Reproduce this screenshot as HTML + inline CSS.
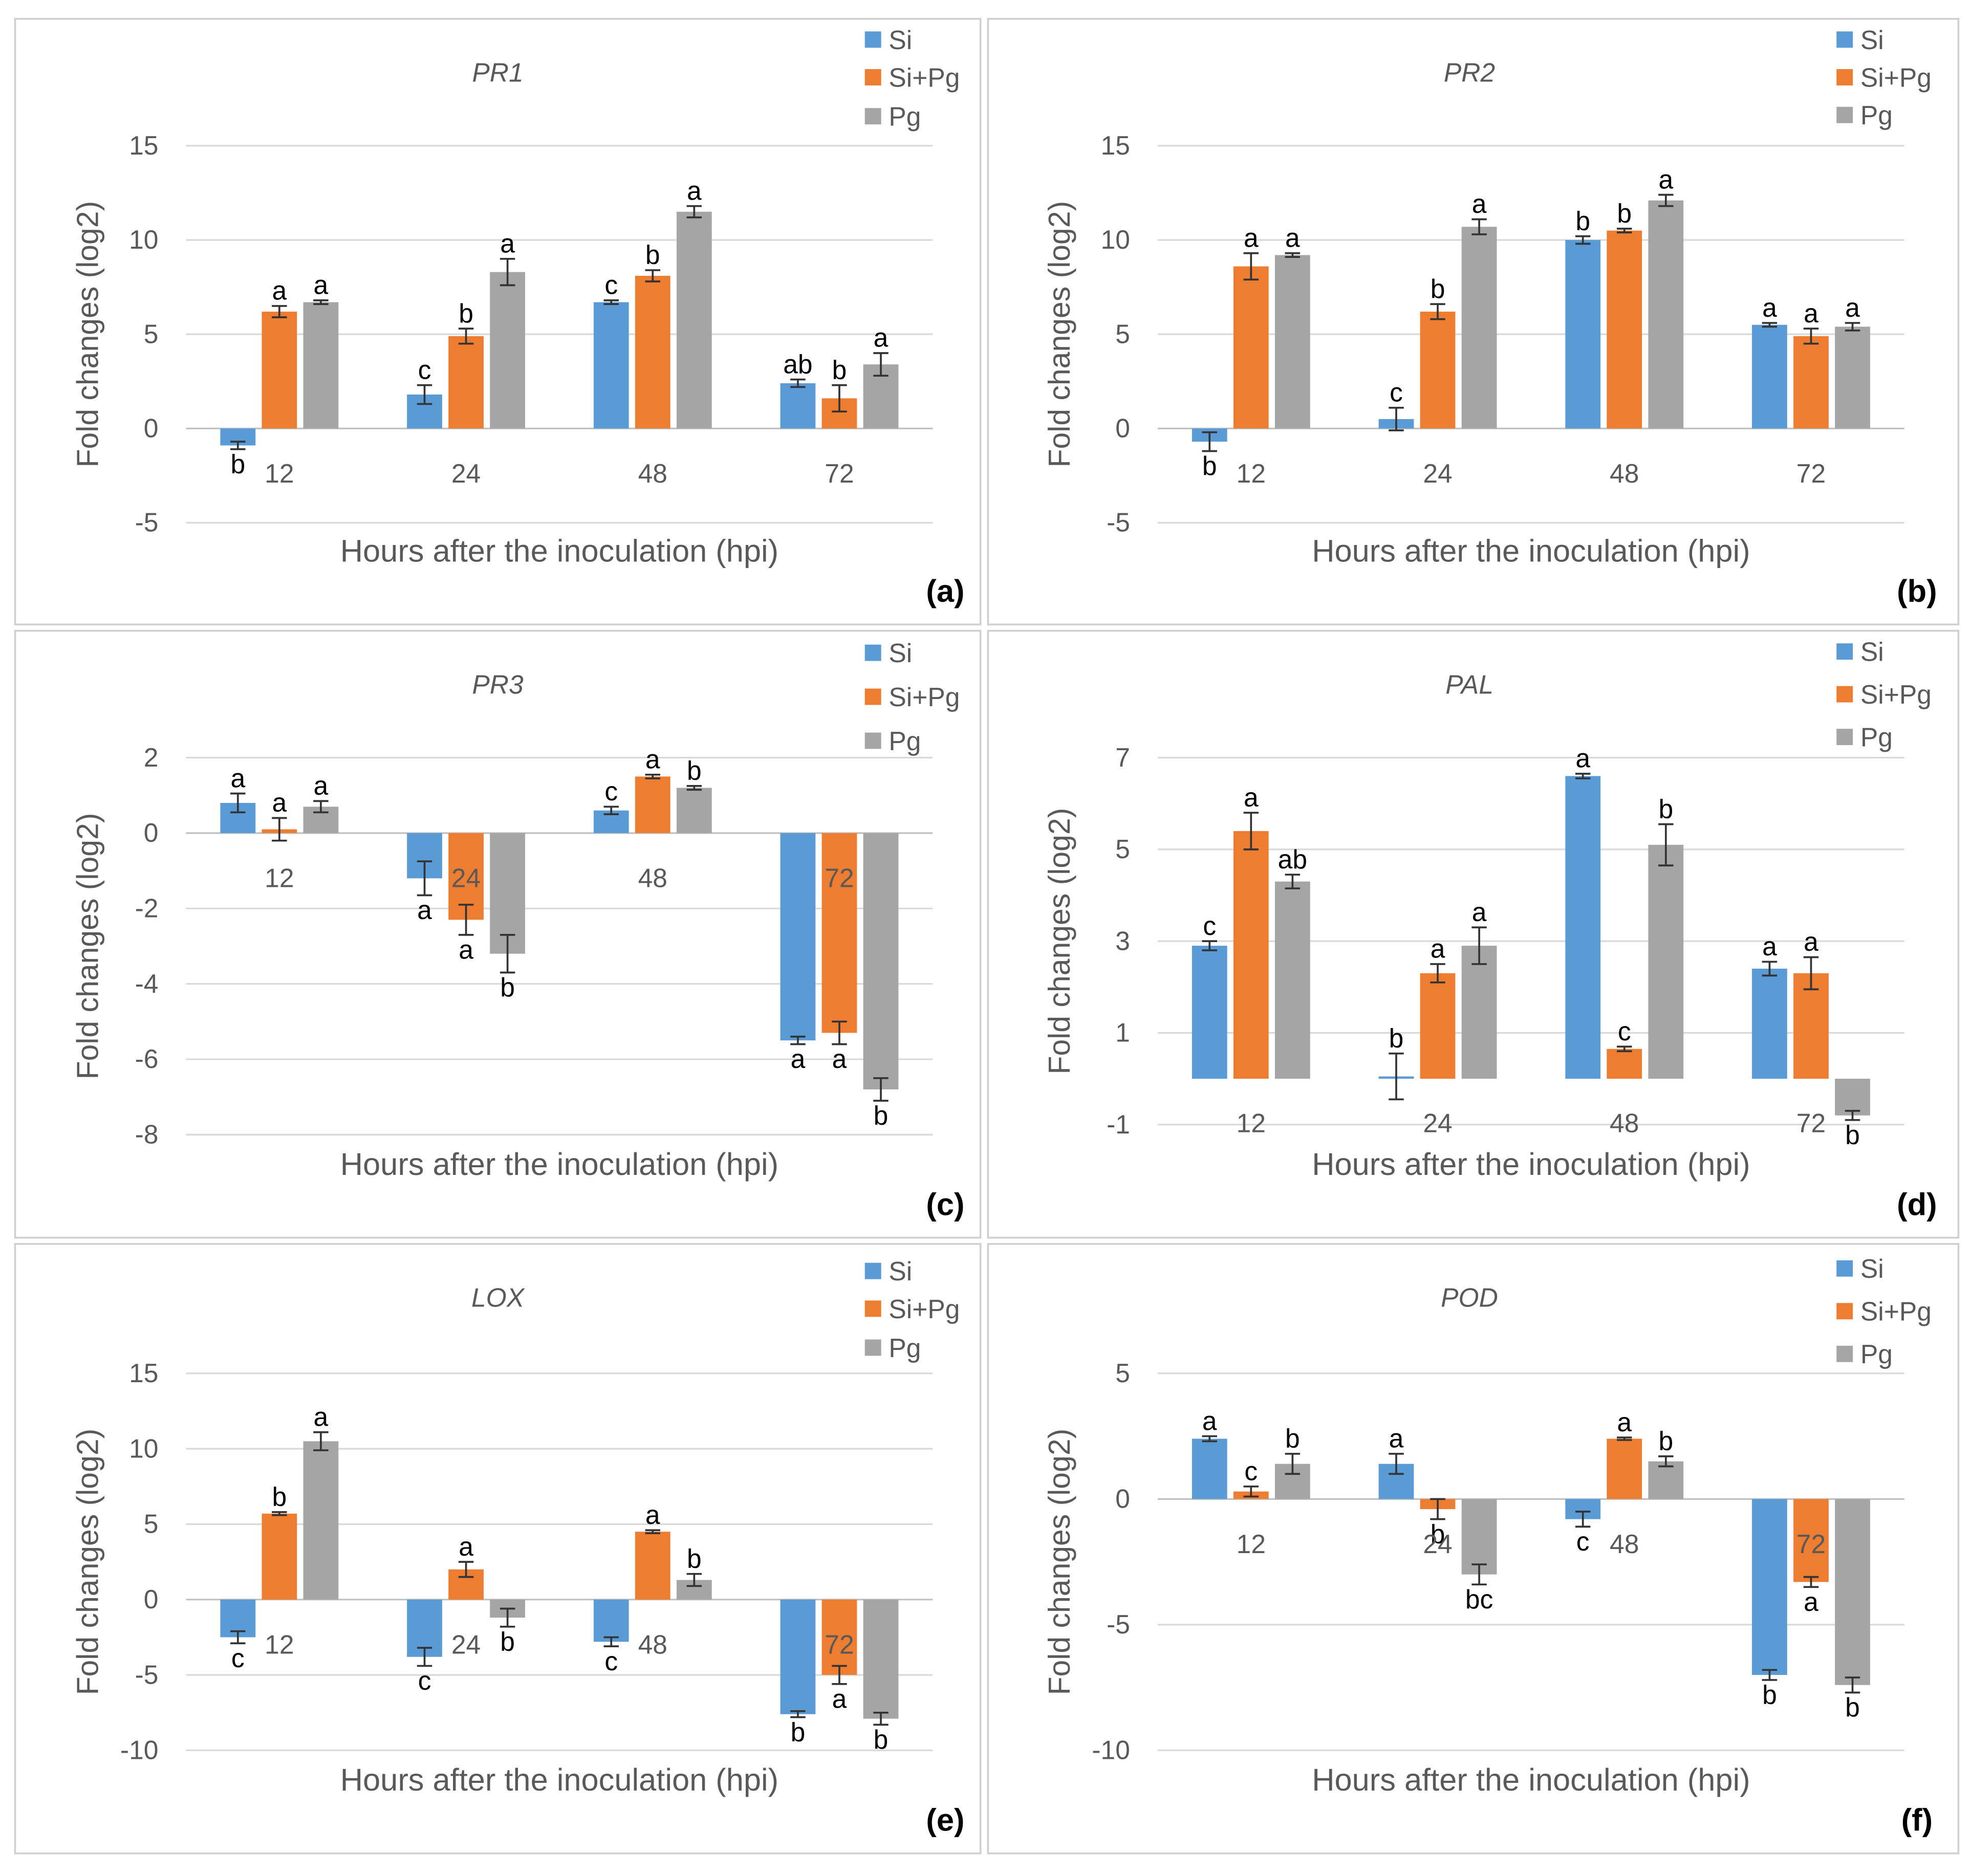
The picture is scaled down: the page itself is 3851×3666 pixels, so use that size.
<!DOCTYPE html>
<html><head><meta charset="utf-8"><style>
html,body{margin:0;padding:0;background:#fff;}
svg{display:block;}
text{font-family:"Liberation Sans",sans-serif;}
</style></head>
<body>
<svg id="fig" width="3851" height="3666" viewBox="0 0 1568 1493" preserveAspectRatio="none" xmlns="http://www.w3.org/2000/svg"></svg>
<script>
const categories = ["12","24","48","72"];
const seriesNames = ["Si","Si+Pg","Pg"];
const seriesColors = ["#5B9BD5","#ED7D31","#A5A5A5"];

// PR1
const pr1Si = [-0.9,1.8,6.7,2.4];
const pr1SiPg = [6.2,4.9,8.1,1.6];
const pr1Pg = [6.7,8.3,11.5,3.4];
const pr1Err = [[0.2,0.5,0.1,0.2],[0.3,0.4,0.3,0.7],[0.1,0.7,0.3,0.6]];
const pr1Let = [["b","c","c","ab"],["a","b","b","b"],["a","a","a","a"]];
// PR2
const pr2Si = [-0.7,0.5,10.0,5.5];
const pr2SiPg = [8.6,6.2,10.5,4.9];
const pr2Pg = [9.2,10.7,12.1,5.4];
const pr2Err = [[0.5,0.6,0.2,0.1],[0.7,0.4,0.1,0.4],[0.1,0.4,0.3,0.2]];
const pr2Let = [["b","c","b","a"],["a","b","b","a"],["a","a","a","a"]];
// PR3
const pr3Si = [0.8,-1.2,0.6,-5.5];
const pr3SiPg = [0.1,-2.3,1.5,-5.3];
const pr3Pg = [0.7,-3.2,1.2,-6.8];
const pr3Err = [[0.25,0.45,0.1,0.1],[0.3,0.4,0.05,0.3],[0.15,0.5,0.05,0.3]];
const pr3Let = [["a","a","c","a"],["a","a","a","a"],["a","b","b","b"]];
// PAL
const palSi = [2.9,0.05,6.6,2.4];
const palSiPg = [5.4,2.3,0.65,2.3];
const palPg = [4.3,2.9,5.1,-0.8];
const palErr = [[0.1,0.5,0.05,0.15],[0.4,0.2,0.05,0.35],[0.15,0.4,0.45,0.1]];
const palLet = [["c","b","a","a"],["a","a","c","a"],["ab","a","b","b"]];
// LOX
const loxSi = [-2.5,-3.8,-2.8,-7.6];
const loxSiPg = [5.7,2.0,4.5,-5.0];
const loxPg = [10.5,-1.2,1.3,-7.9];
const loxErr = [[0.4,0.6,0.3,0.2],[0.1,0.5,0.1,0.6],[0.6,0.6,0.4,0.4]];
const loxLet = [["c","c","c","b"],["b","a","a","a"],["a","b","b","b"]];
// POD
const podSi = [2.4,1.4,-0.8,-7.0];
const podSiPg = [0.3,-0.4,2.4,-3.3];
const podPg = [1.4,-3.0,1.5,-7.4];
const podErr = [[0.1,0.4,0.3,0.2],[0.2,0.4,0.05,0.2],[0.4,0.4,0.2,0.3]];
const podLet = [["a","a","c","b"],["c","b","a","a"],["b","bc","b","b"]];

const yTicks1 = [15,10,5,0,-5];
const yTicks3 = [2,0,-2,-4,-6,-8];
const yTicks4 = [7,5,3,1,-1];
const yTicks5 = [15,10,5,0,-5,-10];
const yTicks6 = [5,0,-5,-10];

const svg = document.getElementById('fig');
const NS = "http://www.w3.org/2000/svg";
function mk(tag, attrs, parent){
  const e = document.createElementNS(NS, tag);
  for (const k in attrs) e.setAttribute(k, attrs[k]);
  (parent||svg).appendChild(e);
  return e;
}
function txt(s, attrs, parent){ const t = mk('text', attrs, parent); t.textContent = s; return t; }

const panels = [
 {id:"a",title:"PR1",dx:0,box:[12,15,768,482],ticks:yTicks1,vTop:15,yTop:116,vBot:-5,yBot:416,catY:376,data:[pr1Si,pr1SiPg,pr1Pg],err:pr1Err,let:pr1Let,leg:[32,62,93],xt:438},
 {id:"b",title:"PR2",dx:773,box:[786,15,772,482],ticks:yTicks1,vTop:15,yTop:116,vBot:-5,yBot:416,catY:376,data:[pr2Si,pr2SiPg,pr2Pg],err:pr2Err,let:pr2Let,leg:[32,62,92],xt:438},
 {id:"c",title:"PR3",dx:0,box:[12,502,768,483],ticks:yTicks3,vTop:2,yTop:603,vBot:-8,yBot:903,catY:698,data:[pr3Si,pr3SiPg,pr3Pg],err:pr3Err,let:pr3Let,leg:[520,555,590],xt:926},
 {id:"d",title:"PAL",dx:773,box:[786,502,772,483],ticks:yTicks4,vTop:7,yTop:603,vBot:-1,yBot:895,catY:893,data:[palSi,palSiPg,palPg],err:palErr,let:palLet,leg:[519,553,587],xt:926},
 {id:"e",title:"LOX",dx:0,box:[12,990,768,485],ticks:yTicks5,vTop:15,yTop:1093,vBot:-10,yBot:1393,catY:1308,data:[loxSi,loxSiPg,loxPg],err:loxErr,let:loxLet,leg:[1012,1042,1073],xt:1416},
 {id:"f",title:"POD",dx:773,box:[786,990,772,485],ticks:yTicks6,vTop:5,yTop:1093,vBot:-10,yBot:1393,catY:1228,data:[podSi,podSiPg,podPg],err:podErr,let:podLet,leg:[1010,1044,1078],xt:1416}
];

panels.forEach(p=>{
  const g = mk('g',{});
  
  
  const b = mk('rect',{x:p.box[0],y:p.box[1],width:p.box[2],height:p.box[3],fill:"none",stroke:"#d0d0d0","stroke-width":1.5},g);
  
  
  const L = 148+p.dx, R = 742+p.dx;
  const y = v => p.yTop + (p.vTop - v)*(p.yBot-p.yTop)/(p.vTop-p.vBot);
  const cw = (R-L)/categories.length;
  const xc = i => L + (i+0.5)*cw;
  p.ticks.forEach(t=>{
    const gl = mk('line',{x1:L,x2:R,y1:y(t),y2:y(t),stroke:t===0?"#bfbfbf":"#d9d9d9","stroke-width":1.3},g);
    
    
    const tl = txt(String(t),{x:L-22,y:y(t)+7,"text-anchor":"end","font-size":21,fill:"#595959"},g);
    
    
  });
  const ti = txt(p.title,{x:396+p.dx,y:p.box[1]+50,"text-anchor":"middle","font-size":21,"font-style":"italic",fill:"#595959"},g);
  
  
  const ycen = (p.yTop+p.yBot)/2;
  const yt = txt("Fold changes (log2)",{x:0,y:0,"text-anchor":"middle","font-size":24,fill:"#595959",transform:`translate(${78+p.dx},${ycen}) rotate(-90)`},g);
  
  
  const xt = txt("Hours after the inoculation (hpi)",{x:445+p.dx,y:p.xt+9,"text-anchor":"middle","font-size":25,fill:"#595959"},g);
  
  
  const pl = txt("("+p.id+")",{x:752+p.dx,y:p.box[1]+p.box[3]-18,"text-anchor":"middle","font-size":25,"font-weight":"bold",fill:"#000","font-family":"Liberation Serif, serif"},g);
  
  
  seriesNames.forEach((n,k)=>{
    const ly = p.leg[k];
    const sw = mk('rect',{x:688+p.dx,y:ly-7,width:13,height:13,fill:seriesColors[k]},g);
    
    
    const lt = txt(n,{x:707+p.dx,y:ly+7,"font-size":21,fill:"#595959"},g);
    
    
  });
  const y0 = y(0);
  p.data.forEach((vals,k)=>{
    vals.forEach((v,i)=>{
      const cx = xc(i) + (k-1)*33;
      const yv = y(v);
      const r = mk('rect',{x:cx-14,y:Math.min(yv,y0),width:28,height:Math.max(1,Math.abs(yv-y0)),fill:seriesColors[k]},g);
      
      
      const e = p.err[k][i];
      const y1 = y(v+e), y2 = y(v-e);
      const eg = mk('path',{d:`M${cx},${y1}V${y2}M${cx-6},${y1}H${cx+6}M${cx-6},${y2}H${cx+6}`,stroke:"#333","stroke-width":1.5,fill:"none"},g);
      
      
      const ly = v>=0 ? y(v+e)-5 : y(v-e)+19;
      const lt = txt(p.let[k][i],{x:cx,y:ly,"text-anchor":"middle","font-size":21,fill:"#000"},g);
      
      
    });
  });
  categories.forEach((c,i)=>{
    const cl = txt(c,{x:xc(i),y:p.catY+8,"text-anchor":"middle","font-size":21,fill:"#595959"},g);
    
    
  });
});
</script>
</body></html>
